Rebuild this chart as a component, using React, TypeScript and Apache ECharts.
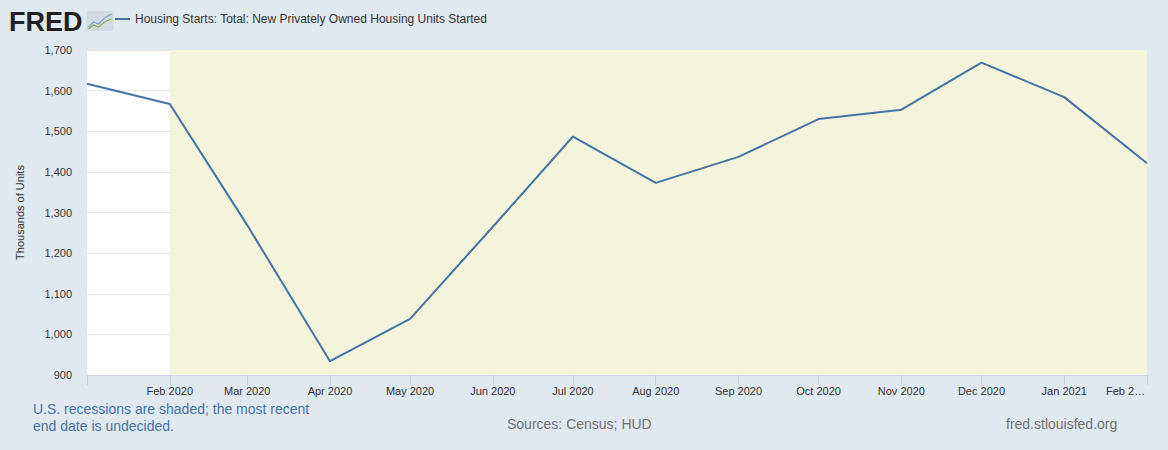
import React, { useEffect, useRef } from "react";
import * as echarts from "echarts";

const months = [
  "2020-01-01", "2020-02-01", "2020-03-01", "2020-04-01", "2020-05-01", "2020-06-01", "2020-07-01",
  "2020-08-01", "2020-09-01", "2020-10-01", "2020-11-01", "2020-12-01", "2021-01-01", "2021-02-01",
];
const housingStarts = [1617, 1567, 1269, 934, 1038, 1265, 1487, 1373, 1437, 1530, 1553, 1669, 1584, 1421];
const recessionStart = "2020-02-01";
const recessionEnd = "2021-02-01";
const seriesName = "Housing Starts: Total: New Privately Owned Housing Units Started";
const yMin = 900;
const yMax = 1700;
const yStep = 100;
const monthNames = ["Jan", "Feb", "Mar", "Apr", "May", "Jun", "Jul", "Aug", "Sep", "Oct", "Nov", "Dec"];

const FONT = "'Liberation Sans', Arial, sans-serif";

export default function App() {
  const ref = useRef<HTMLDivElement>(null);
  useEffect(() => {
    if (!ref.current) return;
    const chart = echarts.init(ref.current, undefined, { renderer: "svg" });
    const data = months.map((m, i) => [m, housingStarts[i]]);
    const minTime = new Date(months[0] + "T00:00:00").getTime();
    const maxTime = new Date(months[months.length - 1] + "T00:00:00").getTime();
    chart.setOption({
      animation: false,
      backgroundColor: "#e1e9f0",
      textStyle: { fontFamily: FONT },
      grid: {
        left: 87, right: 21, top: 50, bottom: 75,
        show: true, backgroundColor: "#ffffff", borderWidth: 0,
      },
      legend: { show: false },
      xAxis: {
        type: "time",
        min: months[0],
        max: months[months.length - 1],
        minInterval: 28 * 86400000,
        maxInterval: 31 * 86400000,
        axisLine: { show: true, lineStyle: { color: "#ccd6eb", width: 1 } },
        axisTick: { show: true, length: 10, lineStyle: { color: "#c0cde0" } },
        splitLine: { show: false },
        axisLabel: {
          color: "#333333",
          fontSize: 11,
          fontFamily: FONT,
          margin: 10,
          hideOverlap: false,
          formatter: (val: number) => {
            if (Math.abs(val - minTime) < 86400000 * 2) return "";
            const d = new Date(val);
            const s = monthNames[d.getMonth()] + " " + d.getFullYear();
            if (Math.abs(val - maxTime) < 86400000 * 2) return "{last|" + s.slice(0, 5) + "…}";
            return s;
          },
          rich: {
            last: { width: 82, align: "left", color: "#333333", fontSize: 11, fontFamily: FONT },
          },
        },
      },
      yAxis: {
        type: "value",
        min: yMin,
        max: yMax,
        interval: yStep,
        name: "Thousands of Units",
        nameLocation: "middle",
        nameRotate: 90,
        nameGap: 62,
        nameTextStyle: { color: "#333333", fontSize: 11, fontFamily: FONT },
        axisLine: { show: false },
        axisTick: { show: false },
        splitLine: { show: true, lineStyle: { color: "#e6e6e6", width: 1 } },
        axisLabel: {
          color: "#333333",
          fontSize: 11,
          fontFamily: FONT,
          margin: 15,
          formatter: (v: number) => v.toLocaleString("en-US"),
        },
      },
      series: [
        {
          name: seriesName,
          type: "line",
          data,
          symbol: "none",
          lineStyle: { color: "#4572a7", width: 2 },
          itemStyle: { color: "#4572a7" },
          markArea: {
            silent: true,
            itemStyle: { color: "#f4f4dc" },
            data: [[{ xAxis: recessionStart }, { xAxis: recessionEnd }]],
          },
          z: 3,
        },
      ],
      graphic: [
        {
          type: "text", left: 9, top: 8,
          style: { text: "FRED", fontSize: 27, fontWeight: 900, fill: "#231f20", fontFamily: FONT },
        },
        {
          type: "group", left: 86, top: 11,
          children: [
            { type: "rect", shape: { x: 0, y: 0, width: 27, height: 20, r: 2 }, style: { fill: "#d3dbe2" } },
            { type: "polyline", shape: { points: [[2, 16], [7, 11], [12, 13], [18, 7], [25, 3]] }, style: { stroke: "#7fa3c9", lineWidth: 1.3, fill: "none" } },
            { type: "polyline", shape: { points: [[2, 18], [7, 14], [12, 16], [18, 11], [25, 8]] }, style: { stroke: "#8fb04a", lineWidth: 1.3, fill: "none" } },
          ],
        },
        {
          type: "line", shape: { x1: 115, y1: 19, x2: 130, y2: 19 },
          style: { stroke: "#4572a7", lineWidth: 2 },
        },
        {
          type: "text", left: 135, top: 13,
          style: { text: seriesName, fontSize: 12, fill: "#333333", fontFamily: FONT },
        },
        {
          type: "text", left: 33, top: 400,
          style: {
            text: "U.S. recessions are shaded; the most recent\nend date is undecided.",
            fontSize: 14, lineHeight: 17, fill: "#4572a7", fontFamily: FONT,
          },
        },
        {
          type: "text", left: 507, top: 417,
          style: { text: "Sources: Census; HUD", fontSize: 14, fill: "#707070", fontFamily: FONT },
        },
        {
          type: "text", left: 1006, top: 417,
          style: { text: "fred.stlouisfed.org", fontSize: 14, fill: "#707070", fontFamily: FONT },
        },
      ],
    });
    return () => chart.dispose();
  }, []);
  return (
    <div
      ref={ref}
      style={{ position: "fixed", left: 0, top: 0, width: 1168, height: 450 }}
    />
  );
}
